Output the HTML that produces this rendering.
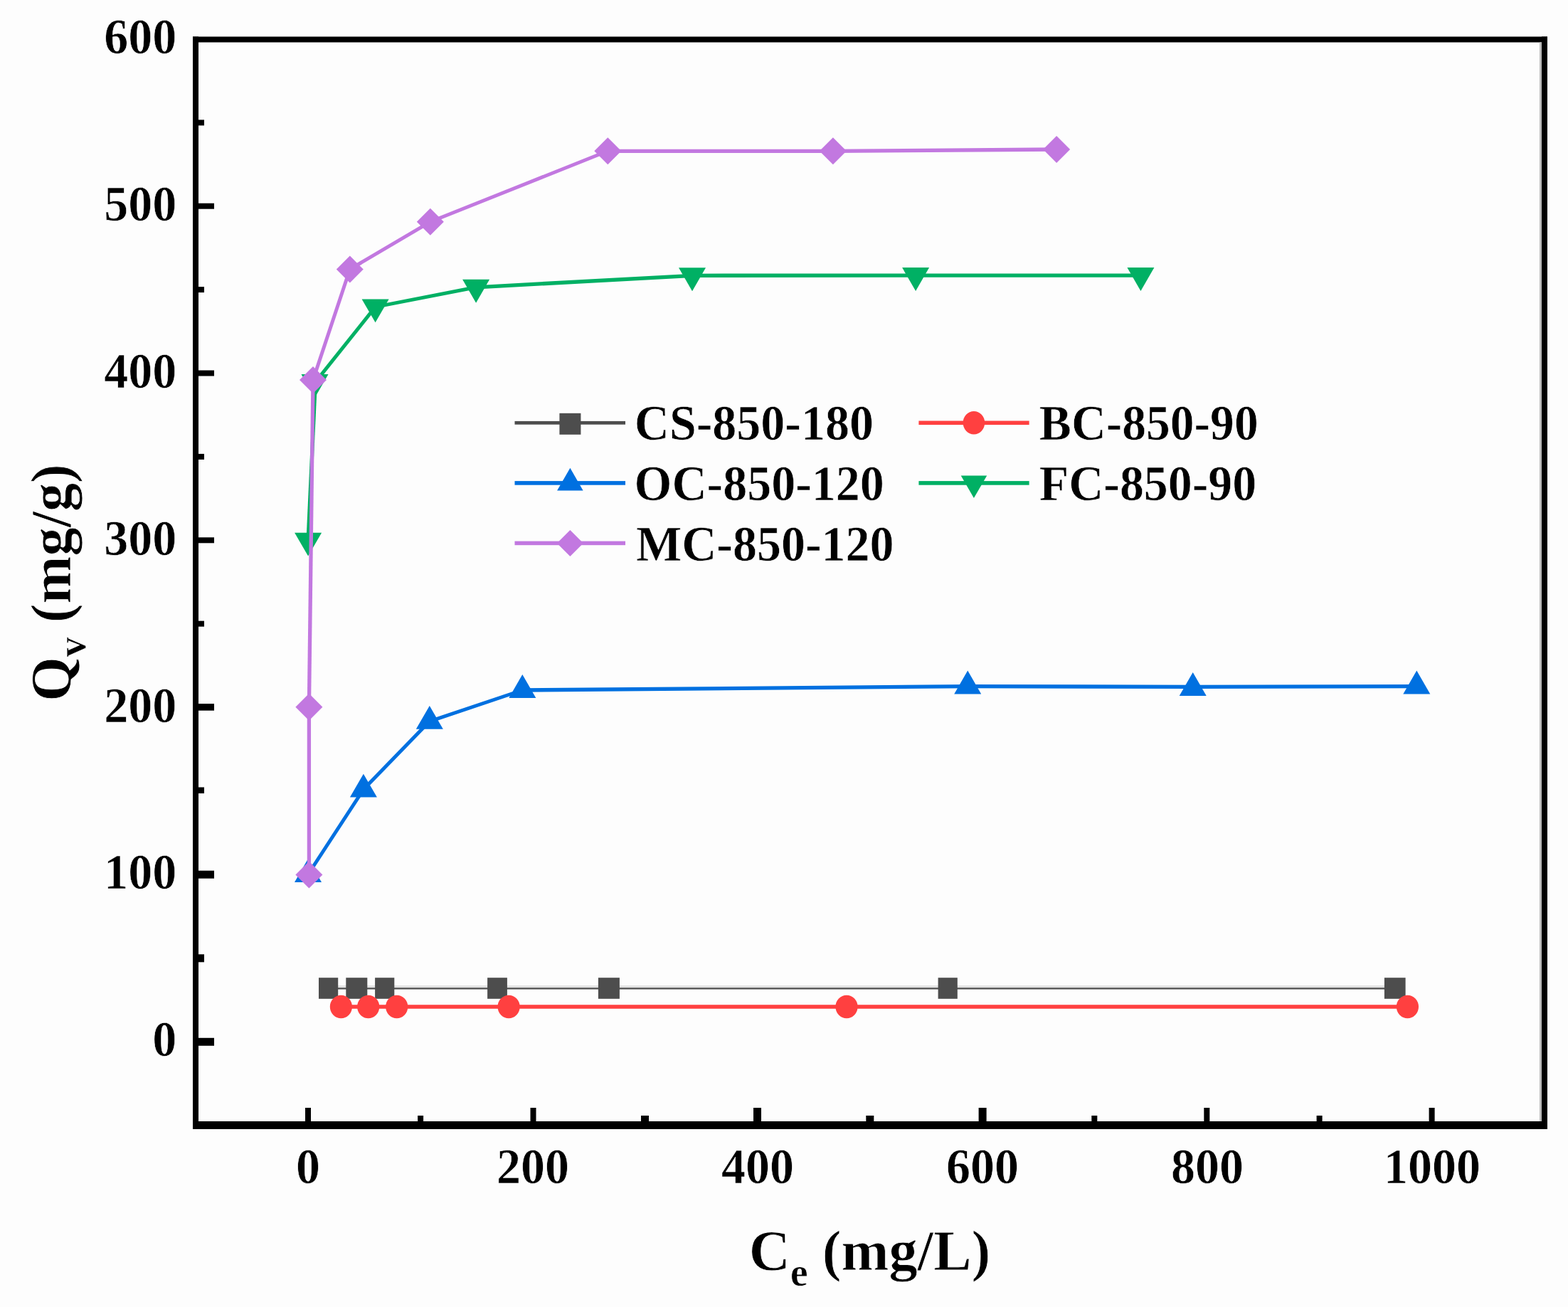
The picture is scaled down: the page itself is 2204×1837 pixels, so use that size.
<!DOCTYPE html>
<html lang="en">
<head>
<meta charset="utf-8">
<title>Adsorption isotherms</title>
<style>
html,body{margin:0;padding:0;background:#fdfdfd;width:2204px;height:1837px;overflow:hidden;}
svg{display:block;}
svg text{font-family:'Liberation Serif',serif;font-weight:bold;fill:#000;stroke:#fdfdfd;stroke-linejoin:round;}
</style>
</head>
<body>
<svg width="2204" height="1837" viewBox="0 0 2204 1837">
<rect x="0" y="0" width="2204" height="1837" fill="#fdfdfd"/>
<rect x="271" y="51.5" width="1904" height="8" fill="#000"/>
<rect x="271" y="1576" width="1904" height="11" fill="#000"/>
<rect x="271" y="51.5" width="8" height="1535.5" fill="#000"/>
<rect x="2167" y="51.5" width="8" height="1535.5" fill="#000"/>
<rect x="2164" y="59.5" width="3" height="1516.5" fill="#bdbdbd"/>
<rect x="279" y="1458.8" width="22" height="11" fill="#000"/>
<rect x="279" y="1223.7" width="22" height="11" fill="#000"/>
<rect x="279" y="989.1" width="22" height="9.6" fill="#000"/>
<rect x="279" y="755.3" width="22" height="8" fill="#000"/>
<rect x="279" y="520.5" width="22" height="8" fill="#000"/>
<rect x="279" y="285.7" width="22" height="8" fill="#000"/>
<rect x="279" y="1341.3" width="8" height="11" fill="#000"/>
<rect x="279" y="1106.5" width="8" height="8.6" fill="#000"/>
<rect x="279" y="872.7" width="8" height="8" fill="#000"/>
<rect x="279" y="637.9" width="8" height="8" fill="#000"/>
<rect x="279" y="403.1" width="8" height="8" fill="#000"/>
<rect x="279" y="168.4" width="8" height="8" fill="#000"/>
<rect x="429" y="1557" width="8" height="19" fill="#000"/>
<rect x="745.5" y="1557" width="8" height="19" fill="#000"/>
<rect x="1059" y="1557" width="11" height="19" fill="#000"/>
<rect x="1375.6" y="1557" width="11" height="19" fill="#000"/>
<rect x="1692.3" y="1557" width="8" height="19" fill="#000"/>
<rect x="2008.6" y="1557" width="8" height="19" fill="#000"/>
<rect x="587.1" y="1568" width="8" height="8" fill="#000"/>
<rect x="901" y="1568" width="11" height="8" fill="#000"/>
<rect x="1217.3" y="1568" width="11" height="8" fill="#000"/>
<rect x="1534.3" y="1568" width="8" height="8" fill="#000"/>
<rect x="1850.6" y="1568" width="8" height="8" fill="#000"/>
<text transform="translate(248.3,1484.0) scale(1,1.03)" font-size="68" stroke-width="0.6" text-anchor="end">0</text>
<text transform="translate(248.3,1249.2) scale(1,1.03)" font-size="68" stroke-width="0.6" text-anchor="end">100</text>
<text transform="translate(248.3,1014.5) scale(1,1.03)" font-size="68" stroke-width="0.6" text-anchor="end">200</text>
<text transform="translate(248.3,779.7) scale(1,1.03)" font-size="68" stroke-width="0.6" text-anchor="end">300</text>
<text transform="translate(248.3,544.9) scale(1,1.03)" font-size="68" stroke-width="0.6" text-anchor="end">400</text>
<text transform="translate(248.3,310.1) scale(1,1.03)" font-size="68" stroke-width="0.6" text-anchor="end">500</text>
<text transform="translate(248.3,75.4) scale(1,1.03)" font-size="68" stroke-width="0.6" text-anchor="end">600</text>
<text transform="translate(433.0,1663) scale(1,1.03)" font-size="68" stroke-width="0.6" text-anchor="middle">0</text>
<text transform="translate(749.0,1663) scale(1,1.03)" font-size="68" stroke-width="0.6" text-anchor="middle">200</text>
<text transform="translate(1065.0,1663) scale(1,1.03)" font-size="68" stroke-width="0.6" text-anchor="middle">400</text>
<text transform="translate(1381.0,1663) scale(1,1.03)" font-size="68" stroke-width="0.6" text-anchor="middle">600</text>
<text transform="translate(1697.0,1663) scale(1,1.03)" font-size="68" stroke-width="0.6" text-anchor="middle">800</text>
<text transform="translate(2013.0,1663) scale(1,1.03)" font-size="68" stroke-width="0.6" text-anchor="middle">1000</text>
<text x="1222.5" y="1785" font-size="80.3" stroke-width="0.8" text-anchor="middle">C<tspan font-size="56.3" dy="21.5">e</tspan><tspan dy="-21.5"> (mg/L)</tspan></text>
<text transform="translate(99,819) rotate(-90)" font-size="80.3" stroke-width="0.8" text-anchor="middle">Q<tspan font-size="56.3" dy="21">v</tspan><tspan dy="-21"> (mg/g)</tspan></text>
<rect x="461.6" y="1385" width="1499.1" height="3.2" fill="#e4e4e4"/>
<line x1="461.6" y1="1389.3" x2="501.3" y2="1389.3" stroke="#4d4d4d" stroke-width="2.2" stroke-linecap="butt"/>
<line x1="501.3" y1="1389.3" x2="540.7" y2="1389.3" stroke="#4d4d4d" stroke-width="2.2" stroke-linecap="butt"/>
<line x1="540.7" y1="1389.3" x2="699.0" y2="1389.3" stroke="#4d4d4d" stroke-width="2.2" stroke-linecap="butt"/>
<line x1="699.0" y1="1389.3" x2="855.9" y2="1389.3" stroke="#4d4d4d" stroke-width="2.2" stroke-linecap="butt"/>
<line x1="855.9" y1="1389.3" x2="1332.0" y2="1389.3" stroke="#4d4d4d" stroke-width="2.2" stroke-linecap="butt"/>
<line x1="1332.0" y1="1389.3" x2="1960.7" y2="1389.3" stroke="#4d4d4d" stroke-width="2.2" stroke-linecap="butt"/>
<rect x="448.0" y="1374.2" width="27.2" height="29.6" fill="#4d4d4d"/>
<rect x="486.3" y="1374.2" width="30" height="29.6" fill="#4d4d4d"/>
<rect x="527.1" y="1374.2" width="27.2" height="29.6" fill="#4d4d4d"/>
<rect x="685.1" y="1374.2" width="27.8" height="29.6" fill="#4d4d4d"/>
<rect x="840.9" y="1374.2" width="30" height="29.6" fill="#4d4d4d"/>
<rect x="1318.6" y="1374.2" width="27.2" height="29.6" fill="#4d4d4d"/>
<rect x="1945.9" y="1374.2" width="29.7" height="29.6" fill="#4d4d4d"/>
<line x1="479.4" y1="1415.0" x2="517.7" y2="1415.0" stroke="#ff4040" stroke-width="5.3" stroke-linecap="butt"/>
<line x1="517.7" y1="1415.0" x2="557.7" y2="1415.0" stroke="#ff4040" stroke-width="5.3" stroke-linecap="butt"/>
<line x1="557.7" y1="1415.0" x2="715.1" y2="1415.0" stroke="#ff4040" stroke-width="5.3" stroke-linecap="butt"/>
<line x1="715.1" y1="1415.0" x2="1190.0" y2="1415.0" stroke="#ff4040" stroke-width="5.3" stroke-linecap="butt"/>
<line x1="1190.0" y1="1415.0" x2="1978.4" y2="1415.0" stroke="#ff4040" stroke-width="5.3" stroke-linecap="butt"/>
<ellipse cx="479.4" cy="1415.0" rx="15.6" ry="16.3" fill="#ff4040"/>
<ellipse cx="517.7" cy="1415.0" rx="15.6" ry="16.3" fill="#ff4040"/>
<ellipse cx="557.7" cy="1415.0" rx="15.6" ry="16.3" fill="#ff4040"/>
<ellipse cx="715.1" cy="1415.0" rx="15.6" ry="16.3" fill="#ff4040"/>
<ellipse cx="1190.0" cy="1415.0" rx="15.6" ry="16.3" fill="#ff4040"/>
<ellipse cx="1978.4" cy="1415.0" rx="15.6" ry="16.3" fill="#ff4040"/>
<line x1="433.0" y1="1229.0" x2="510.9" y2="1109.6" stroke="#0070e0" stroke-width="5.0" stroke-linecap="butt"/>
<line x1="510.9" y1="1109.6" x2="603.8" y2="1013.8" stroke="#0070e0" stroke-width="5.0" stroke-linecap="butt"/>
<line x1="603.8" y1="1013.8" x2="734.3" y2="970.0" stroke="#0070e0" stroke-width="5.0" stroke-linecap="butt"/>
<line x1="734.3" y1="970.0" x2="1360.2" y2="964.7" stroke="#0070e0" stroke-width="5.3" stroke-linecap="butt"/>
<line x1="1360.2" y1="964.7" x2="1676.7" y2="965.3" stroke="#0070e0" stroke-width="5.3" stroke-linecap="butt"/>
<line x1="1676.7" y1="965.3" x2="1991.3" y2="964.7" stroke="#0070e0" stroke-width="5.3" stroke-linecap="butt"/>
<polygon points="414.0,1240.0 452.0,1240.0 433.0,1207.1" fill="#0070e0"/>
<polygon points="491.9,1120.6 529.9,1120.6 510.9,1087.7" fill="#0070e0"/>
<polygon points="584.8,1024.8 622.8,1024.8 603.8,991.9" fill="#0070e0"/>
<polygon points="715.3,981.0 753.3,981.0 734.3,948.1" fill="#0070e0"/>
<polygon points="1341.2,975.5 1379.2,975.5 1360.2,942.6" fill="#0070e0"/>
<polygon points="1657.7,978.0 1695.7,978.0 1676.7,945.1" fill="#0070e0"/>
<polygon points="1972.3,975.5 2010.3,975.5 1991.3,942.6" fill="#0070e0"/>
<line x1="433.1" y1="759.7" x2="443.3" y2="537.0" stroke="#00b064" stroke-width="5.3" stroke-linecap="butt"/>
<line x1="443.3" y1="537.0" x2="527.6" y2="431.4" stroke="#00b064" stroke-width="5.0" stroke-linecap="butt"/>
<line x1="527.6" y1="431.4" x2="669.1" y2="403.8" stroke="#00b064" stroke-width="5.0" stroke-linecap="butt"/>
<line x1="669.1" y1="403.8" x2="973.0" y2="387.3" stroke="#00b064" stroke-width="5.3" stroke-linecap="butt"/>
<line x1="973.0" y1="387.3" x2="1287.1" y2="387.1" stroke="#00b064" stroke-width="5.3" stroke-linecap="butt"/>
<line x1="1287.1" y1="387.1" x2="1603.4" y2="387.1" stroke="#00b064" stroke-width="5.3" stroke-linecap="butt"/>
<polygon points="414.1,748.7 452.1,748.7 433.1,781.6" fill="#00b064"/>
<polygon points="423.5,526.0 461.5,526.0 442.5,558.9" fill="#00b064"/>
<polygon points="508.6,420.4 546.6,420.4 527.6,453.3" fill="#00b064"/>
<polygon points="650.1,392.8 688.1,392.8 669.1,425.7" fill="#00b064"/>
<polygon points="954.0,376.3 992.0,376.3 973.0,409.2" fill="#00b064"/>
<polygon points="1268.1,376.1 1306.1,376.1 1287.1,409.0" fill="#00b064"/>
<polygon points="1584.4,376.1 1622.4,376.1 1603.4,409.0" fill="#00b064"/>
<line x1="434.4" y1="1229.6" x2="434.4" y2="993.7" stroke="#c278e0" stroke-width="5.3" stroke-linecap="butt"/>
<line x1="434.4" y1="993.7" x2="440.0" y2="534.0" stroke="#c278e0" stroke-width="5.3" stroke-linecap="butt"/>
<line x1="440.0" y1="534.0" x2="491.8" y2="378.5" stroke="#c278e0" stroke-width="5.0" stroke-linecap="butt"/>
<line x1="491.8" y1="378.5" x2="604.8" y2="311.8" stroke="#c278e0" stroke-width="5.0" stroke-linecap="butt"/>
<line x1="604.8" y1="311.8" x2="854.3" y2="212.3" stroke="#c278e0" stroke-width="5.0" stroke-linecap="butt"/>
<line x1="854.3" y1="212.3" x2="1170.9" y2="212.3" stroke="#c278e0" stroke-width="5.3" stroke-linecap="butt"/>
<line x1="1170.9" y1="212.3" x2="1485.1" y2="210.0" stroke="#c278e0" stroke-width="5.3" stroke-linecap="butt"/>
<polygon points="415.4,1229.6 434.4,1210.6 453.4,1229.6 434.4,1248.6" fill="#c278e0"/>
<polygon points="415.4,993.7 434.4,974.7 453.4,993.7 434.4,1012.7" fill="#c278e0"/>
<polygon points="421.0,534.0 440.0,515.0 459.0,534.0 440.0,553.0" fill="#c278e0"/>
<polygon points="472.8,378.5 491.8,359.5 510.8,378.5 491.8,397.5" fill="#c278e0"/>
<polygon points="585.8,311.8 604.8,292.8 623.8,311.8 604.8,330.8" fill="#c278e0"/>
<polygon points="835.3,212.3 854.3,193.3 873.3,212.3 854.3,231.3" fill="#c278e0"/>
<polygon points="1151.9,212.3 1170.9,193.3 1189.9,212.3 1170.9,231.3" fill="#c278e0"/>
<polygon points="1466.1,210.0 1485.1,191.0 1504.1,210.0 1485.1,229.0" fill="#c278e0"/>
<rect x="723.5" y="591.9" width="155.5" height="4.8" fill="#4d4d4d"/>
<rect x="786.4" y="580.8" width="30" height="30" fill="#4d4d4d"/>
<text transform="translate(891.8,618.3) scale(1,1.035)" font-size="68" stroke-width="0.6">CS-850-180</text>
<rect x="1291.4" y="591.5" width="155.2" height="5.6" fill="#ff4040"/>
<ellipse cx="1368.9" cy="594.3" rx="15.3" ry="16.2" fill="#ff4040"/>
<text transform="translate(1460.8,618.3) scale(1,1.035)" font-size="67.6" stroke-width="0.6">BC-850-90</text>
<rect x="723.5" y="676.1" width="155.5" height="5.6" fill="#0070e0"/>
<polygon points="783.1,689.4 819.6,689.4 801.4,657.8" fill="#0070e0"/>
<text transform="translate(891.6,703.1) scale(1,1.035)" font-size="68" stroke-width="0.6">OC-850-120</text>
<rect x="1291.4" y="676.1" width="155.2" height="5.6" fill="#00b064"/>
<polygon points="1350.7,668.4 1387.2,668.4 1368.9,700.0" fill="#00b064"/>
<text transform="translate(1460.8,703.1) scale(1,1.035)" font-size="67.9" stroke-width="0.6">FC-850-90</text>
<rect x="723.5" y="760.6" width="155.5" height="5.6" fill="#c278e0"/>
<polygon points="782.9,763.4 801.4,744.9 819.9,763.4 801.4,781.9" fill="#c278e0"/>
<text transform="translate(894.0,787.7) scale(1,1.035)" font-size="68" stroke-width="0.6">MC-850-120</text>
</svg>
</body>
</html>
